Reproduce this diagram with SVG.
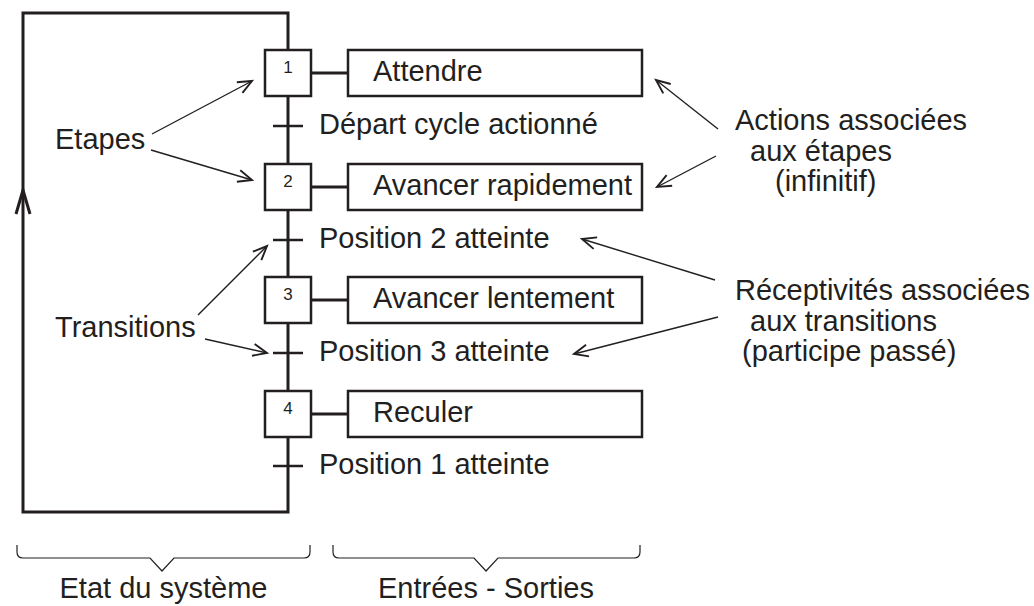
<svg xmlns="http://www.w3.org/2000/svg" width="1034" height="606" viewBox="0 0 1034 606">
  <style>
    .txt { font-family: "Liberation Sans", Arial, sans-serif; font-size: 29px; fill: #231f20; }
    .num { font-family: "Liberation Sans", Arial, sans-serif; font-size: 17px; fill: #231f20; text-anchor: middle; }
    .box { fill: #ffffff; stroke: #231f20; stroke-width: 2.5; }
    .main { fill: none; stroke: #231f20; stroke-width: 3; }
    .tick { stroke: #231f20; stroke-width: 2.5; }
    .link { stroke: #231f20; stroke-width: 3; }
    .ptr { fill: none; stroke: #231f20; stroke-width: 1.4; marker-end: url(#open); }
    .brace { fill: none; stroke: #231f20; stroke-width: 1.2; }
  </style>
  <defs>
    <marker id="open" markerUnits="userSpaceOnUse" markerWidth="30" markerHeight="30" viewBox="-15 -15 30 30" refX="0" refY="0" orient="auto">
      <path d="M -14 -6 L 0 0 L -14 6" fill="none" stroke="#231f20" stroke-width="1.9"/>
    </marker>
  </defs>
  <rect width="1034" height="606" fill="#ffffff"/>

  <!-- connectors: the grafcet spine, the return loop and the transition bars -->
  <g id="connectors">
    <path class="main" d="M 288 512 L 288 13 L 23 13 L 23 512 Z"/>
    <polyline class="main" points="16,214 23,190 30,214" stroke-width="2"/>
    <line class="tick" x1="273" y1="126" x2="303" y2="126"/>
    <line class="tick" x1="273" y1="240" x2="303" y2="240"/>
    <line class="tick" x1="273" y1="353" x2="303" y2="353"/>
    <line class="tick" x1="273" y1="466" x2="303" y2="466"/>
    <line class="link" x1="311" y1="73" x2="348" y2="73"/>
    <line class="link" x1="311" y1="187" x2="348" y2="187"/>
    <line class="link" x1="311" y1="300" x2="348" y2="300"/>
    <line class="link" x1="311" y1="414" x2="348" y2="414"/>
  </g>

  <!-- steps -->
  <g id="step1">
    <rect class="box" x="265" y="50" width="46" height="46"/>
    <text class="num" x="288" y="73">1</text>
  </g>
  <g id="step2">
    <rect class="box" x="265" y="164" width="46" height="46"/>
    <text class="num" x="288" y="187">2</text>
  </g>
  <g id="step3">
    <rect class="box" x="265" y="277" width="46" height="46"/>
    <text class="num" x="288" y="300">3</text>
  </g>
  <g id="step4">
    <rect class="box" x="265" y="391" width="46" height="46"/>
    <text class="num" x="288" y="414">4</text>
  </g>

  <!-- actions -->
  <g id="action1">
    <rect class="box" x="348" y="50" width="294" height="46"/>
    <text class="txt" x="373" y="81">Attendre</text>
  </g>
  <g id="action2">
    <rect class="box" x="348" y="164" width="294" height="46"/>
    <text class="txt" x="373" y="195">Avancer rapidement</text>
  </g>
  <g id="action3">
    <rect class="box" x="348" y="277" width="294" height="46"/>
    <text class="txt" x="373" y="308">Avancer lentement</text>
  </g>
  <g id="action4">
    <rect class="box" x="348" y="391" width="294" height="46"/>
    <text class="txt" x="373" y="422">Reculer</text>
  </g>

  <!-- receptivities -->
  <g id="receptivities">
    <text class="txt" x="319" y="134">Départ cycle actionné</text>
    <text class="txt" x="319" y="248">Position 2 atteinte</text>
    <text class="txt" x="319" y="361">Position 3 atteinte</text>
    <text class="txt" x="319" y="474">Position 1 atteinte</text>
  </g>

  <!-- annotations -->
  <g id="label-etapes">
    <text class="txt" x="55" y="149">Etapes</text>
  </g>
  <g id="label-transitions">
    <text class="txt" x="55" y="337">Transitions</text>
  </g>
  <g id="label-actions">
    <text class="txt" x="735" y="130">Actions associées</text>
    <text class="txt" x="750" y="161">aux étapes</text>
    <text class="txt" x="775" y="191">(infinitif)</text>
  </g>
  <g id="label-receptivites">
    <text class="txt" x="735" y="300">Réceptivités associées</text>
    <text class="txt" x="750" y="331">aux transitions</text>
    <text class="txt" x="742" y="361">(participe passé)</text>
  </g>

  <g id="pointers">
    <line class="ptr" x1="152" y1="134" x2="252" y2="81"/>
    <line class="ptr" x1="151" y1="150" x2="252" y2="180"/>
    <line class="ptr" x1="198" y1="315" x2="267" y2="246"/>
    <line class="ptr" x1="205" y1="339" x2="267" y2="353"/>
    <line class="ptr" x1="718" y1="129" x2="656" y2="80"/>
    <line class="ptr" x1="716" y1="156" x2="657" y2="187"/>
    <line class="ptr" x1="715" y1="280" x2="582" y2="239"/>
    <line class="ptr" x1="718" y1="317" x2="574" y2="354"/>
  </g>

  <!-- braces grouping the two halves -->
  <g id="brace-etat">
    <path class="brace" d="M 17 545 L 17 552 Q 17 558 23 558 L 150 558 L 162 571 L 174 558 L 304 558 Q 310 558 310 552 L 310 545"/>
    <text class="txt" x="163.5" y="598" text-anchor="middle">Etat du système</text>
  </g>
  <g id="brace-es">
    <path class="brace" d="M 333 545 L 333 552 Q 333 558 339 558 L 474 558 L 486 571 L 498 558 L 634 558 Q 640 558 640 552 L 640 545"/>
    <text class="txt" x="486" y="598" text-anchor="middle">Entrées - Sorties</text>
  </g>
</svg>
